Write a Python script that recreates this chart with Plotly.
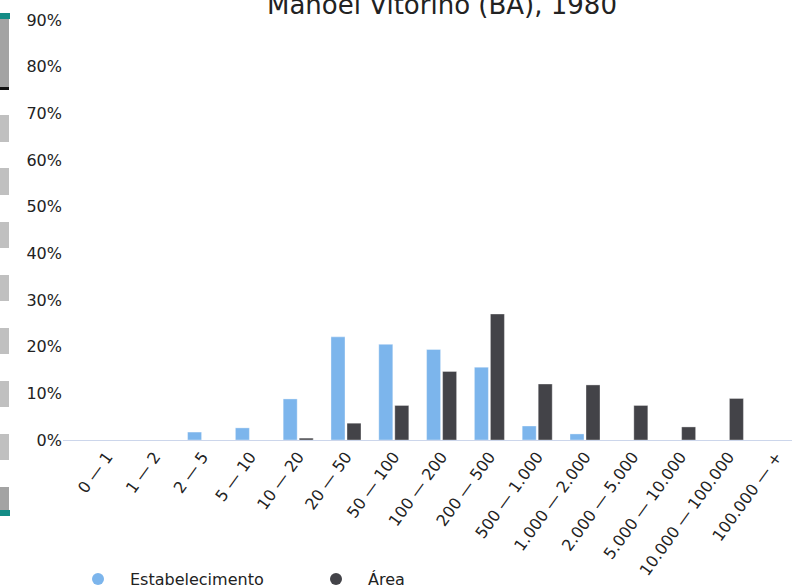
import plotly.graph_objects as go

categories = ["0 — 1", "1 — 2", "2 — 5", "5 — 10", "10 — 20", "20 — 50", "50 — 100",
              "100 — 200", "200 — 500", "500 — 1.000", "1.000 — 2.000", "2.000 — 5.000",
              "5.000 — 10.000", "10.000 — 100.000", "100.000 — +"]
estabelecimento = [0.0, 0.0, 1.7, 2.6, 8.8, 22.1, 20.5, 19.4, 15.6, 3.0, 1.3, 0.0, 0.0, 0.0, 0.0]
area = [0.0, 0.0, 0.0, 0.0, 0.4, 3.6, 7.4, 14.7, 27.0, 12.0, 11.8, 7.4, 2.8, 8.9, 0.0]
series_names = ["Estabelecimento", "Área"]
series_colors = ["#7cb5ec", "#434348"]
title_text = "Manoel Vitorino (BA), 1980"

FONT = "DejaVu Sans, sans-serif"
idx = list(range(len(categories)))

fig = go.Figure()
for name, vals, col in zip(series_names, [estabelecimento, area], series_colors):
    fig.add_trace(go.Bar(
        x=idx, y=[v / 100 for v in vals], name=name, marker_color=col,
        marker_line=dict(width=0.6, color="rgba(255,255,255,0.6)"),
        showlegend=False, hoverinfo="skip"))
for name, col in zip(series_names, series_colors):
    fig.add_trace(go.Scatter(
        x=[None], y=[None], mode="markers", name=name,
        marker=dict(symbol="circle", size=12, color=col)))

# left scrollbar-like strip (decoration)
def strip(y_top, y_bot, color, x1=9):
    fig.add_shape(type="rect", xref="paper", yref="paper",
                  xsizemode="pixel", ysizemode="pixel", xanchor=0, yanchor=0,
                  x0=-63, x1=-63 + x1, y0=440 - y_bot, y1=440 - y_top,
                  fillcolor=color, line_width=0, layer="above")

strip(15, 89, "#a3a3a3")
strip(13, 19, "#148c86", x1=10)
strip(87, 90, "#111111")
for a, b in [(115, 142), (168, 195), (222, 248), (275, 301), (328, 354), (381, 407), (434, 460)]:
    strip(a, b, "#c0c0c0")
strip(487, 512, "#a3a3a3")
strip(510, 516, "#148c86", x1=10)

fig.add_annotation(text=title_text, xref="paper", yref="paper",
                   x=(442 - 63) / 729, y=1 + 15 / 420, xanchor="center", yanchor="middle",
                   showarrow=False, font=dict(size=26, color="#222222"))

fig.update_layout(
    width=792, height=587,
    margin=dict(l=63, r=0, t=20, b=147),
    paper_bgcolor="white", plot_bgcolor="white",
    font=dict(family=FONT, size=16, color="#222222"),
    barmode="group", bargap=0.33, bargroupgap=0.125,
    xaxis=dict(tickmode="array", tickvals=idx, ticktext=categories, tickangle=-54,
               range=[-0.92, 14.33], showline=True, linecolor="#ccd6eb", linewidth=1,
               showgrid=False, zeroline=False, ticks="", tickfont=dict(size=16),
               automargin=False),
    yaxis=dict(range=[0, 0.9], dtick=0.1, tickformat=".0%", showgrid=False,
               zeroline=False, showline=False, ticks="", tickfont=dict(size=16),
               automargin=False),
    legend=dict(orientation="h", x=66 / 792, xanchor="left", xref="container",
                y=8 / 587, yanchor="middle", yref="container", font=dict(size=16),
                itemwidth=54, entrywidth=169, entrywidthmode="pixels"),
)

fig.write_html("out.html", config={"displayModeBar": False},
               post_script="document.body.style.margin='0';document.body.style.overflow='hidden';")
